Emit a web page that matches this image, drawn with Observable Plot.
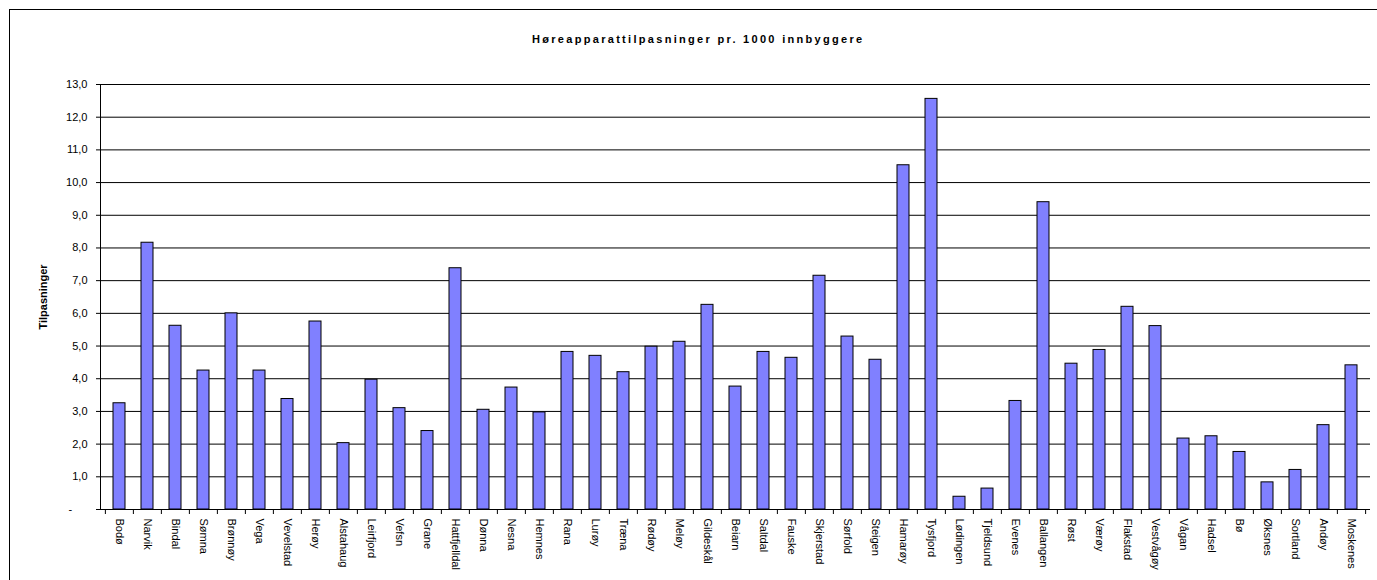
<!DOCTYPE html>
<html>
<head>
<meta charset="utf-8">
<script src="https://cdn.jsdelivr.net/npm/d3@7"></script>
<script src="https://cdn.jsdelivr.net/npm/@observablehq/plot@0.6"></script>
<style>
  html, body { margin: 0; padding: 0; background: #fff; }
  body { width: 1377px; height: 580px; position: relative; overflow: hidden; font-family: "Liberation Sans", Arial, sans-serif; }
  #border { position: absolute; left: 9px; top: 9px; width: 1500px; height: 700px; border-left: 1px solid #000; border-top: 1px solid #000; }
  #title { position: absolute; left: 532px; top: 34px; font-size: 11px; line-height: 11px; font-weight: bold; letter-spacing: 2.3px; white-space: nowrap; color: #000; }
  #chart { position: absolute; left: 0; top: 0; }
</style>
</head>
<body>
<div id="border"></div>
<div id="title">Høreapparattilpasninger pr. 1000 innbyggere</div>
<div id="chart"></div>
<script>
const municipalities = ["Bodø","Narvik","Bindal","Sømna","Brønnøy","Vega","Vevelstad","Herøy","Alstahaug","Leirfjord","Vefsn","Grane","Hattfjelldal","Dønna","Nesna","Hemnes","Rana","Lurøy","Træna","Rødøy","Meløy","Gildeskål","Beiarn","Saltdal","Fauske","Skjerstad","Sørfold","Steigen","Hamarøy","Tysfjord","Lødingen","Tjeldsund","Evenes","Ballangen","Røst","Værøy","Flakstad","Vestvågøy","Vågan","Hadsel","Bø","Øksnes","Sortland","Andøy","Moskenes"];
const fittings = [3.25,8.16,5.62,4.25,6.0,4.25,3.38,5.75,2.03,3.97,3.10,2.40,7.38,3.05,3.73,2.97,4.82,4.70,4.20,4.98,5.13,6.26,3.76,4.82,4.64,7.15,5.29,4.58,10.53,12.56,0.39,0.64,3.32,9.40,4.46,4.88,6.20,5.61,2.17,2.24,1.76,0.83,1.21,2.58,4.41];
const yTicks = [0,1,2,3,4,5,6,7,8,9,10,11,12,13];
const yLabel = "Tilpasninger";

const data = municipalities.map((m, i) => ({municipality: m, value: fittings[i]}));

const W = 1377, H = 580, mL = 100, mR = 7, mT = 84, mB = 71;
const step = (W - mL - mR) / municipalities.length;
const fmt = d => d === 0 ? "-\u00a0\u00a0\u00a0\u00a0\u00a0" : d.toFixed(1).replace(".", ",");

const chart = Plot.plot({
  width: W, height: H,
  marginLeft: mL, marginRight: mR, marginTop: mT, marginBottom: mB,
  style: { fontFamily: "'Liberation Sans', Arial, sans-serif", fontSize: "11px", background: "transparent", color: "#000", overflow: "visible" },
  x: { type: "band", domain: municipalities, paddingInner: 0.57, paddingOuter: 0.285, label: null },
  y: { domain: [0, 13], label: null },
  marks: [
    Plot.gridY(yTicks.filter(d => d > 0), { stroke: "#000", strokeOpacity: 1 }),
    Plot.barY(data, { x: "municipality", y: "value", fill: "#8080ff", stroke: "#000", strokeWidth: 1 }),
    Plot.ruleY([0], { stroke: "#000" }),
    Plot.frame({ anchor: "left", stroke: "#000" }),
    Plot.axisY({ ticks: yTicks, tickSize: 4, tickPadding: 9, tickFormat: fmt, label: null, stroke: "#000", fill: "#000" }),
    Plot.axisX({ tickSize: 0, tickPadding: 9, tickRotate: 90, label: null, fill: "#000" }),
    Plot.axisX({ tickSize: 5, tickFormat: () => "", dx: -step / 2, label: null, stroke: "#000" }),
    Plot.axisX({ ticks: [municipalities[municipalities.length - 1]], tickSize: 5, tickFormat: () => "", dx: step / 2, label: null, stroke: "#000" }),
    Plot.text([yLabel], { text: d => d, frameAnchor: "left", dx: -57, rotate: -90, fontWeight: "bold", fontSize: 11, textAnchor: "middle", lineAnchor: "middle", fill: "#000" })
  ]
});
document.getElementById("chart").appendChild(chart);
</script>
</body>
</html>
